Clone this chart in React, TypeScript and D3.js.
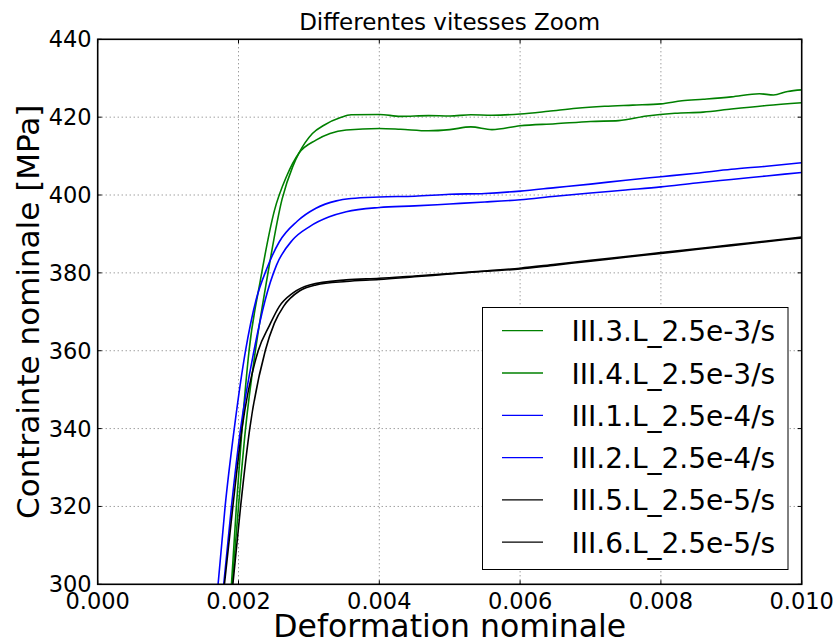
import React from "react";
import * as d3 from "d3";

const xTicks = [0, 0.002, 0.004, 0.006, 0.008, 0.01];
const yTicks = [300, 320, 340, 360, 380, 400, 420, 440];

const seriesNames = [
  "III.3.L_2.5e-3/s",
  "III.4.L_2.5e-3/s",
  "III.1.L_2.5e-4/s",
  "III.2.L_2.5e-4/s",
  "III.5.L_2.5e-5/s",
  "III.6.L_2.5e-5/s",
];
const seriesColors = ["#008000", "#008000", "#0000ff", "#0000ff", "#000000", "#000000"];

const s3: [number, number][] = [
  [0.00191, 300], [0.002, 320], [0.0021, 340], [0.00224, 360], [0.0024, 378], [0.00262, 399],
  [0.00277, 407.3], [0.00286, 410.8], [0.00305, 415.8], [0.00322, 418], [0.00345, 419.9], [0.0036, 420.6],
  [0.004, 420.7], [0.0043, 420.2], [0.0047, 420.4], [0.005, 420.3], [0.0053, 420.6], [0.0056, 420.5],
  [0.006, 420.8], [0.0064, 421.5], [0.0068, 422.3], [0.0072, 422.8], [0.0076, 423.1], [0.008, 423.4],
  [0.0083, 424.2], [0.0086, 424.6], [0.009, 425.2], [0.0094, 426.0], [0.0096, 425.7], [0.0098, 426.6],
  [0.01, 427.0],
];
const s4: [number, number][] = [
  [0.0019, 300], [0.00197, 320], [0.00205, 340], [0.00215, 360], [0.00231, 378], [0.00251, 396],
  [0.00268, 404.7], [0.00286, 410.8], [0.0031, 414.1], [0.0033, 415.8], [0.00353, 416.7], [0.004, 417.1],
  [0.0043, 416.9], [0.0047, 416.5], [0.005, 416.8], [0.0053, 417.5], [0.0056, 416.8], [0.006, 417.8],
  [0.0065, 418.3], [0.007, 418.9], [0.0074, 419.1], [0.0078, 420.3], [0.0082, 421.0], [0.0086, 421.3],
  [0.009, 422.1], [0.0095, 423.0], [0.01, 423.7],
];
const s1: [number, number][] = [
  [0.00171, 300], [0.00181, 320], [0.00194, 340], [0.0021, 360], [0.00225, 373.1], [0.0024, 381],
  [0.00258, 388], [0.00283, 393.2], [0.0031, 396.6], [0.00339, 398.5], [0.0036, 399.1], [0.004, 399.5],
  [0.0045, 399.7], [0.005, 400.2], [0.0055, 400.4], [0.006, 401.0], [0.0065, 401.9], [0.007, 402.8],
  [0.0075, 403.8], [0.008, 404.7], [0.0085, 405.6], [0.009, 406.6], [0.0095, 407.4], [0.01, 408.3],
];
const s2: [number, number][] = [
  [0.00179, 300], [0.0019, 320], [0.00203, 340], [0.00222, 360], [0.00238, 373.1], [0.00254, 382],
  [0.00277, 388.5], [0.00301, 391.9], [0.00329, 394.4], [0.00353, 395.7], [0.004, 396.8], [0.0045, 397.2],
  [0.005, 397.7], [0.0055, 398.2], [0.006, 398.8], [0.0065, 399.7], [0.007, 400.5], [0.0075, 401.3],
  [0.008, 402.1], [0.0085, 403.1], [0.009, 404.0], [0.0095, 404.9], [0.01, 405.8],
];
const s5: [number, number][] = [
  [0.0018, 300], [0.00192, 320], [0.00205, 340], [0.00228, 360], [0.00244, 366.5], [0.00258, 371.4],
  [0.00277, 374.8], [0.00301, 376.9], [0.00353, 378.2], [0.004, 378.6], [0.0045, 379.2], [0.005, 379.8],
  [0.0055, 380.5], [0.006, 381.2], [0.0065, 382.2], [0.007, 383.2], [0.0075, 384.2], [0.008, 385.2],
  [0.0085, 386.2], [0.009, 387.2], [0.0095, 388.2], [0.01, 389.2],
];
const s6: [number, number][] = [
  [0.00192, 300], [0.00203, 320], [0.00216, 340], [0.00238, 360], [0.00251, 367.1], [0.00264, 371.4],
  [0.00287, 375.4], [0.0031, 376.9], [0.00353, 377.8], [0.004, 378.3], [0.0045, 379.0], [0.005, 379.7],
  [0.0055, 380.4], [0.006, 381.0], [0.0065, 382.0], [0.007, 383.0], [0.0075, 384.0], [0.008, 385.0],
  [0.0085, 386.0], [0.009, 387.0], [0.0095, 388.0], [0.01, 389.0],
];
const seriesData = [s3, s4, s1, s2, s5, s6];

const W = 836;
const H = 643;
const left = 97.7;
const right = 801.7;
const top = 39.3;
const bottom = 584.3;
const FONT = "DejaVu Sans, sans-serif";

export default function App() {
  const x = d3.scaleLinear().domain([0, 0.01]).range([left, right]);
  const y = d3.scaleLinear().domain([300, 440]).range([bottom, top]);
  const line = d3
    .line<[number, number]>()
    .x((d) => x(d[0]))
    .y((d) => y(d[1]))
    .curve(d3.curveMonotoneX);

  const legX = 482.5;
  const legY = 307.5;
  const legW = 305.5;
  const legH = 262;
  const rowY0 = 330.7;
  const rowDy = 42.3;

  return (
    <svg
      width={W}
      height={H}
      style={{ position: "absolute", left: 0, top: 0, display: "block", background: "#fff" }}
      fontFamily={FONT}
    >
      <defs>
        <clipPath id="plotclip">
          <rect x={left} y={top} width={right - left} height={bottom - top} />
        </clipPath>
      </defs>
      <rect x={0} y={0} width={W} height={H} fill="#fff" />
      {/* grid */}
      <g stroke="#000" strokeOpacity={0.55} strokeWidth={1} strokeDasharray="1,3">
        {xTicks.slice(1, -1).map((t) => (
          <line key={"gx" + t} x1={x(t)} x2={x(t)} y1={top} y2={bottom} />
        ))}
        {yTicks.slice(1, -1).map((t) => (
          <line key={"gy" + t} x1={left} x2={right} y1={y(t)} y2={y(t)} />
        ))}
      </g>
      {/* series */}
      <g clipPath="url(#plotclip)" fill="none">
        {seriesData.map((d, i) => (
          <path key={seriesNames[i]} d={line(d) || ""} stroke={seriesColors[i]} strokeWidth={1.6} />
        ))}
      </g>
      {/* ticks */}
      <g stroke="#000" strokeWidth={1}>
        {xTicks.map((t) => (
          <g key={"tx" + t}>
            <line x1={x(t)} x2={x(t)} y1={bottom} y2={bottom - 4} />
            <line x1={x(t)} x2={x(t)} y1={top} y2={top + 4} />
          </g>
        ))}
        {yTicks.map((t) => (
          <g key={"ty" + t}>
            <line x1={left} x2={left + 4} y1={y(t)} y2={y(t)} />
            <line x1={right} x2={right - 4} y1={y(t)} y2={y(t)} />
          </g>
        ))}
      </g>
      {/* frame */}
      <rect x={left} y={top} width={right - left} height={bottom - top} fill="none" stroke="#000" strokeWidth={1.6} />
      {/* tick labels */}
      <g fontSize={22.5} fill="#000">
        {xTicks.map((t) => (
          <text key={"lx" + t} x={x(t)} y={608.5} textAnchor="middle">
            {d3.format(".3f")(t)}
          </text>
        ))}
        {yTicks.map((t) => (
          <text key={"ly" + t} x={left - 6} y={y(t)} textAnchor="end" dominantBaseline="central">
            {t}
          </text>
        ))}
      </g>
      {/* title */}
      <text x={(left + right) / 2} y={30} textAnchor="middle" fontSize={23} fill="#000">
        Differentes vitesses Zoom
      </text>
      {/* axis labels */}
      <text x={(left + right) / 2} y={636.5} textAnchor="middle" fontSize={31.5} fill="#000">
        Deformation nominale
      </text>
      <text
        transform={`translate(38.5, ${(top + bottom) / 2}) rotate(-90)`}
        textAnchor="middle"
        fontSize={31}
        fill="#000"
      >
        Contrainte nominale [MPa]
      </text>
      {/* legend */}
      <rect x={legX} y={legY} width={legW} height={legH} fill="#fff" stroke="#000" strokeWidth={1} />
      {seriesNames.map((n, i) => (
        <g key={"leg" + n}>
          <line
            x1={502}
            x2={543}
            y1={rowY0 + i * rowDy}
            y2={rowY0 + i * rowDy}
            stroke={seriesColors[i]}
            strokeWidth={1.3}
          />
          <text x={571.5} y={rowY0 + i * rowDy + 10.5} fontSize={28} fill="#000">
            {n}
          </text>
        </g>
      ))}
    </svg>
  );
}
